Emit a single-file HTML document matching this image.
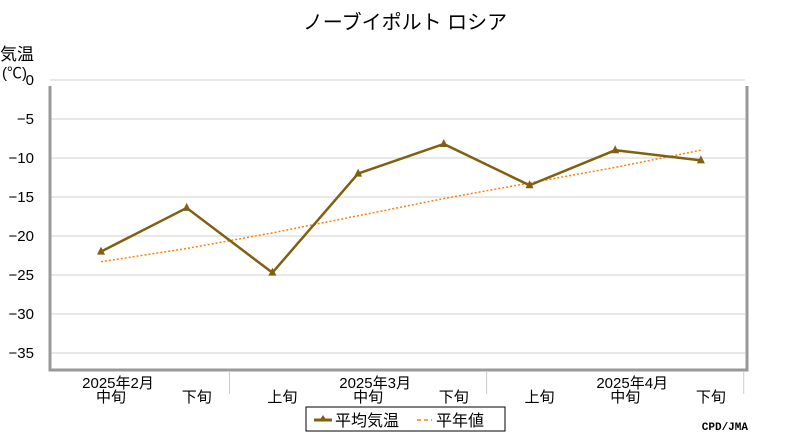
<!DOCTYPE html>
<html><head><meta charset="utf-8"><style>
body{margin:0;background:#fff;width:800px;height:440px;overflow:hidden;font-family:"Liberation Sans","Noto Sans CJK JP",sans-serif}
</style></head><body>
<svg width="800" height="440" xmlns="http://www.w3.org/2000/svg" font-family="Liberation Sans, Noto Sans CJK JP, sans-serif">
<text x="405" y="29" font-size="20" text-anchor="middle" fill="#000">ノーブイポルト ロシア</text>
<text x="0" y="60" font-size="17" fill="#000">気温</text>
<text x="2" y="78" font-size="15" fill="#000">(℃)</text>
<g id="grid"></g>
<path d="M50,86 L50,370 L747,370 L747,86" fill="none" stroke="#999" stroke-width="3"/>
<g id="yticks" font-size="15" fill="#000"></g>
<g id="xticks" font-size="15" fill="#000"></g>
<g id="series"></g>
<g>
<rect x="306" y="407" width="199" height="24" fill="#fff" stroke="#000" stroke-width="1"/>
<line x1="314" y1="420" x2="332" y2="420" stroke="#806010" stroke-width="3"/>
<path d="M323,415 L327,421 L319,421 Z" fill="#806010"/>
<text x="335" y="426" font-size="16">平均気温</text>
<line x1="417" y1="420" x2="432" y2="420" stroke="#ff7f0e" stroke-width="1.5" stroke-dasharray="4,3"/>
<text x="436" y="426" font-size="16">平年値</text>
</g>
<text x="748" y="430" font-size="11" font-weight="bold" text-anchor="end" font-family="Liberation Mono, monospace">CPD/JMA</text>
</svg>
<script>
const categories=["中旬","下旬","上旬","中旬","下旬","上旬","中旬","下旬"];
const monthLabels=["2025年2月","2025年3月","2025年4月"];
const monthIndex=[0,3,6];
const avgTemp=[-22.0,-16.4,-24.7,-12.0,-8.2,-13.5,-9.0,-10.3];
const normalTemp=[-23.3,-21.6,-19.6,-17.4,-15.2,-13.2,-11.2,-9.0];
const yTicks=[0,-5,-10,-15,-20,-25,-30,-35];
const NS="http://www.w3.org/2000/svg";
const xs=i=>101+i*85.7;
const ys=v=>80-v*7.8;
function mk(tag,attrs,parent){const e=document.createElementNS(NS,tag);for(const k in attrs)e.setAttribute(k,attrs[k]);parent.appendChild(e);return e;}
const grid=document.getElementById('grid'),yt=document.getElementById('yticks'),xt=document.getElementById('xticks'),se=document.getElementById('series');
yTicks.forEach(v=>{
 const l=mk('line',{x1:50,x2:745,y1:ys(v),y2:ys(v),stroke:'#d0d0d0','stroke-width':1},grid);
 
 
 const t=mk('text',{x:34,y:ys(v)+5,'text-anchor':'end'},yt);
 t.textContent=v===0?'0':'−'+Math.abs(v);
 
 
});
categories.forEach((c,i)=>{
 const t=mk('text',{x:xs(i)+10,y:402,'text-anchor':'middle'},xt);
 t.textContent=c;
 
 
});
monthLabels.forEach((m,j)=>{
 const t=mk('text',{x:xs(monthIndex[j])+17,y:388,'text-anchor':'middle'},xt);
 t.textContent=m;
 
 
 const sx=xs(monthIndex[j])+128.5;
 const l=mk('line',{x1:sx,x2:sx,y1:372,y2:394,stroke:'#ccc','stroke-width':1},xt);
 
 
});
const np=mk('polyline',{points:normalTemp.map((v,i)=>xs(i)+','+ys(v)).join(' '),fill:'none',stroke:'#ff7f0e','stroke-width':1.5,'stroke-dasharray':'2,2'},se);


const ap=mk('polyline',{points:avgTemp.map((v,i)=>xs(i)+','+ys(v)).join(' '),fill:'none',stroke:'#806010','stroke-width':2.5},se);


avgTemp.forEach((v,i)=>{
 const x=xs(i),y=ys(v);
 const p=mk('path',{d:`M${x},${y-5} L${x+4},${y+3} L${x-4},${y+3} Z`,fill:'#806010'},se);
 
 
});
</script>
</body></html>
